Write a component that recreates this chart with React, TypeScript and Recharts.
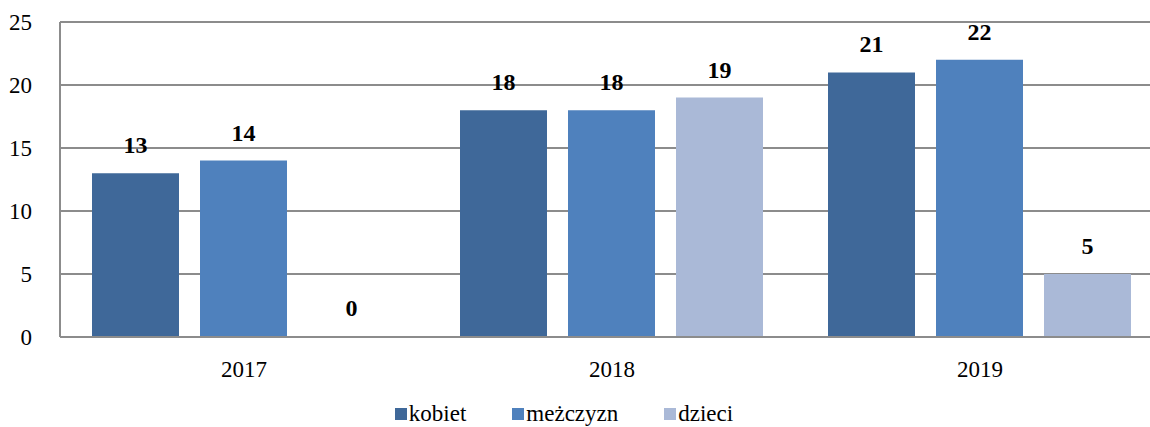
import React from 'react';
import { BarChart, Bar, XAxis, YAxis, CartesianGrid, Legend, LabelList, Rectangle } from 'recharts';

const years = ['2017', '2018', '2019'];
const kobiet = [13, 18, 21];
const mezczyzn = [14, 18, 22];
const dzieci = [0, 19, 5];
const yTicks = [0, 5, 10, 15, 20, 25];

const series = [
  { key: 'kobiet', name: 'kobiet', color: '#3F6899' },
  { key: 'mezczyzn', name: 'meżczyzn', color: '#4F81BD' },
  { key: 'dzieci', name: 'dzieci', color: '#AAB9D7' },
];

const rows = years.map((y, i) => ({ year: y, kobiet: kobiet[i], mezczyzn: mezczyzn[i], dzieci: dzieci[i] }));

const font = '"Times New Roman", "Liberation Serif", Tinos, "Noto Serif", "DejaVu Serif", FreeSerif, serif';

function LegendBox() {
  return (
    <div style={{ display: 'flex', justifyContent: 'center', gap: 46, fontFamily: font, fontSize: 23, color: '#000', marginLeft: -36 }}>
      {series.map(s => (
        <div key={s.key} style={{ display: 'flex', alignItems: 'center' }}>
          <span style={{ width: 12, height: 12, background: s.color, marginRight: 2, display: 'inline-block' }} />
          <span>{s.name}</span>
        </div>
      ))}
    </div>
  );
}

function ValueLabel(props: any) {
  const { x, y, width, value } = props;
  return (
    <text x={x + width / 2} y={y - 20} textAnchor="middle" fill="#000" fontSize={24} fontWeight="bold" fontFamily={font}>
      {value}
    </text>
  );
}

// zero values still get a label, but no visible bar
const BarShape = (p: any) => (p.value === 0 || (Array.isArray(p.value) && p.value[1] === 0)) ? <g /> : <Rectangle {...p} />;

export default function App() {
  return (
    <div style={{ position: 'absolute', left: 0, top: 0, width: 1150, height: 427, overflow: 'hidden', background: '#fff' }}>
      <BarChart width={1170} height={427} data={rows} margin={{ top: 22, right: 6, left: 0, bottom: 0 }} barCategoryGap={32} barGap={21}>
        <CartesianGrid vertical={false} stroke="#8C8C8C" strokeWidth={2} />
        <XAxis dataKey="year" tickLine={false} stroke="#8C8C8C" strokeWidth={2} height={50}
          tick={{ fill: '#000', fontSize: 23, fontFamily: font }} tickMargin={18} />
        <YAxis domain={[0, 25]} ticks={yTicks} width={60} tickLine={false} stroke="#8C8C8C" strokeWidth={2}
          tick={{ fill: '#000', fontSize: 23, fontFamily: font, textAnchor: 'end' }} tickMargin={22} />
        <Legend verticalAlign="bottom" content={<LegendBox />} wrapperStyle={{ bottom: -14, height: 40 }} />
        {series.map(s => (
          <Bar key={s.key} dataKey={s.key} name={s.name} fill={s.color} minPointSize={1} shape={BarShape} isAnimationActive={false}>
            <LabelList dataKey={s.key} content={<ValueLabel />} />
          </Bar>
        ))}
      </BarChart>
    </div>
  );
}
